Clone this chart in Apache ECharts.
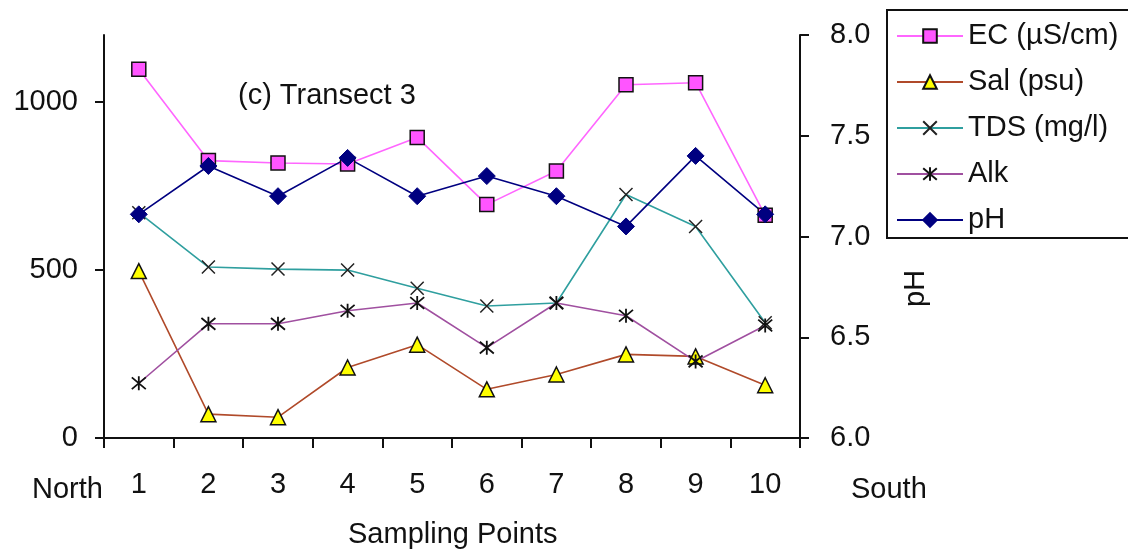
<!DOCTYPE html>
<html>
<head>
<meta charset="utf-8">
<script src="https://cdn.jsdelivr.net/npm/echarts@6/dist/echarts.min.js"></script>
<style>
	html, body { margin: 0; padding: 0; background: #fff; }
	#chart { width: 1128px; height: 552px; }
</style>
</head>
<body>
<div id="chart"></div>
<script>
var points = ['1', '2', '3', '4', '5', '6', '7', '8', '9', '10'];
var ecData = [1098, 826, 819, 816, 895, 695, 795, 1052, 1058, 663];
var salData = [497, 71, 62, 210, 278, 145, 189, 249, 243, 157];
var tdsData = [671, 509, 503, 500, 446, 393, 402, 725, 630, 343];
var alkData = [163, 340, 340, 379, 402, 269, 402, 364, 228, 335];
var phData = [7.11, 7.35, 7.2, 7.39, 7.2, 7.3, 7.2, 7.05, 7.4, 7.11];
var leftTicks = [0, 500, 1000];

var FONT = 'Liberation Sans';
var crossPath = 'path://M0,0L10,10M10,0L0,10';
var starPath = 'path://M5,0L5,10M0.8,0.8L9.2,9.2M9.2,0.8L0.8,9.2';

var chart = echarts.init(document.getElementById('chart'));

function lineSeries(name, data, color, symbol, size, item, yIndex) { //折线
	return {
		name: name,
		type: 'line',
		yAxisIndex: yIndex || 0,
		data: data,
		symbol: symbol,
		symbolSize: size,
		showSymbol: true,
		animation: false,
		lineStyle: { color: color, width: 1.6 },
		itemStyle: item,
		emphasis: { disabled: true }
	};
}

var option = {
	animation: false,
	textStyle: { fontFamily: FONT },
	grid: { left: 104, right: 328, top: 35, bottom: 114, containLabel: false },
	legend: {
		orient: 'vertical',
		left: 887,
		top: 10,
		padding: [11, 60, 3, 9],
		borderColor: '#111',
		borderWidth: 2,
		itemWidth: 66,
		itemHeight: 17,
		itemGap: 16,
		textStyle: { fontSize: 29, color: '#111', fontFamily: FONT, height: 30, lineHeight: 30 },
		data: ['EC (µS/cm)', 'Sal (psu)', 'TDS (mg/l)', 'Alk', 'pH']
	},
	xAxis: {
		type: 'category',
		data: points,
		boundaryGap: true,
		axisLine: { lineStyle: { color: '#111', width: 2 } },
		axisTick: { show: true, interval: 0, length: 10, lineStyle: { color: '#111', width: 2 } },
		axisLabel: { color: '#111', fontSize: 29, margin: 32, fontFamily: FONT },
		splitLine: { show: false }
	},
	yAxis: [{
		type: 'value',
		min: 0,
		max: 1200,
		position: 'left',
		axisLine: { show: true, lineStyle: { color: '#111', width: 2 } },
		axisTick: { show: true, length: 9, customValues: leftTicks, lineStyle: { color: '#111', width: 2 } },
		axisLabel: {
			color: '#111', fontSize: 29, margin: 26, fontFamily: FONT, customValues: leftTicks,
			formatter: function(v) { return String(v); }
		},
		splitLine: { show: false }
	}, {
		type: 'value',
		min: 6,
		max: 8,
		interval: 0.5,
		position: 'right',
		axisLine: { show: true, lineStyle: { color: '#111', width: 2 } },
		axisTick: { show: true, length: 9, lineStyle: { color: '#111', width: 2 } },
		axisLabel: {
			color: '#111', fontSize: 29, margin: 30, fontFamily: FONT,
			formatter: function(v) { return v.toFixed(1); }
		},
		splitLine: { show: false }
	}],
	graphic: [
		{ type: 'text', left: 238, top: 81, style: { text: '(c) Transect 3', font: '29px "' + FONT + '"', fill: '#111' } },
		{ type: 'text', left: 32, top: 475, style: { text: 'North', font: '29px "' + FONT + '"', fill: '#111' } },
		{ type: 'text', left: 851, top: 475, style: { text: 'South', font: '29px "' + FONT + '"', fill: '#111' } },
		{ type: 'text', left: 348, top: 520, style: { text: 'Sampling Points', font: '29px "' + FONT + '"', fill: '#111' } },
		{
			type: 'text', x: 901, y: 307, rotation: Math.PI / 2,
			style: { text: 'pH', font: '29px "' + FONT + '"', fill: '#111' }
		}
	],
	series: [
		lineSeries('EC (µS/cm)', ecData, '#ff66ff', 'rect', 14,
			{ color: '#ff55ff', borderColor: '#111', borderWidth: 1.5 }),
		lineSeries('Sal (psu)', salData, '#b04a2a', 'triangle', 15,
			{ color: '#ffff00', borderColor: '#111', borderWidth: 1.5 }),
		lineSeries('TDS (mg/l)', tdsData, '#2f9f9f', crossPath, 13,
			{ color: 'none', borderColor: '#222', borderWidth: 1.5 }),
		lineSeries('Alk', alkData, '#a050a0', starPath, 14,
			{ color: 'none', borderColor: '#111', borderWidth: 1.8 }),
		lineSeries('pH', phData, '#000080', 'diamond', 17,
			{ color: '#000080', borderColor: '#000080', borderWidth: 1 }, 1)
	]
};
chart.setOption(option);
</script>
</body>
</html>
